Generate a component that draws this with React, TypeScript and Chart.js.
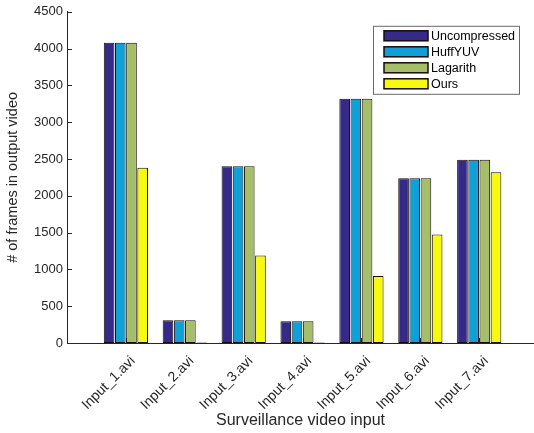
import React, { useEffect, useRef } from "react";
import { Chart, registerables } from "chart.js";

Chart.register(...registerables);

const categories = [
  "Input_1.avi",
  "Input_2.avi",
  "Input_3.avi",
  "Input_4.avi",
  "Input_5.avi",
  "Input_6.avi",
  "Input_7.avi",
];
const seriesNames = ["Uncompressed", "HuffYUV", "Lagarith", "Ours"];
const uncompressed = [4080, 310, 2400, 295, 3320, 2240, 2490];
const huffyuv = [4080, 310, 2400, 295, 3320, 2240, 2490];
const lagarith = [4080, 310, 2400, 295, 3320, 2240, 2490];
const ours = [2380, 8, 1190, 8, 910, 1475, 2320];
const yTicks = [0, 500, 1000, 1500, 2000, 2500, 3000, 3500, 4000, 4500];
const colors = ["#352a87", "#0ea0d6", "#a5be6a", "#f8fa0e"];

const FONT = '"Liberation Sans", Arial, Helvetica, sans-serif';
const AXIS = "#262626";

const inwardTicks = {
  id: "inwardTicks",
  beforeDatasetsDraw(chart: any) {
    const { ctx, chartArea, scales } = chart;
    ctx.save();
    ctx.strokeStyle = AXIS;
    ctx.lineWidth = 1;
    ctx.beginPath();
    scales.y.ticks.forEach((t: any) => {
      const y = Math.round(scales.y.getPixelForValue(t.value)) + 0.5;
      ctx.moveTo(chartArea.left, y);
      ctx.lineTo(chartArea.left + 5, y);
    });
    scales.x.ticks.forEach((t: any) => {
      const x = Math.round(scales.x.getPixelForValue(t.value)) + 0.5;
      ctx.moveTo(x, chartArea.bottom);
      ctx.lineTo(x, chartArea.bottom - 5);
    });
    ctx.stroke();
    ctx.restore();
  },
};

const boxLegend = {
  id: "boxLegend",
  afterDraw(chart: any) {
    const { ctx, chartArea } = chart;
    const right = chartArea.right - 15;
    const top = chartArea.top + 14;
    const w = 146;
    const h = 68;
    const left = right - w;
    ctx.save();
    ctx.fillStyle = "#ffffff";
    ctx.fillRect(left, top, w, h);
    ctx.strokeStyle = "#6a6a6a";
    ctx.lineWidth = 1;
    ctx.strokeRect(left + 0.5, top + 0.5, w, h);
    ctx.font = `12.5px ${FONT}`;
    ctx.textBaseline = "middle";
    ctx.textAlign = "left";
    chart.data.datasets.forEach((ds: any, i: number) => {
      const cy = top + 10 + i * 16;
      ctx.fillStyle = ds.backgroundColor;
      ctx.fillRect(left + 11, cy - 5, 44, 10);
      ctx.strokeStyle = "#1a0a0a";
      ctx.lineWidth = 1.5;
      ctx.strokeRect(left + 11, cy - 5, 44, 10);
      ctx.fillStyle = "#000000";
      ctx.fillText(ds.label, left + 58, cy + 0.5);
    });
    ctx.restore();
  },
};

export default function App() {
  const ref = useRef<HTMLCanvasElement | null>(null);
  useEffect(() => {
    if (!ref.current) return;
    const series = [uncompressed, huffyuv, lagarith, ours];
    const chart = new Chart(ref.current, {
      type: "bar",
      data: {
        datasets: series.map((vals, si) => ({
          label: seriesNames[si],
          data: vals.map((v, i) => ({ x: i + 1, y: v })),
          backgroundColor: colors[si],
          borderColor: "#1a0a0a",
          borderWidth: 1,
          borderSkipped: false,
          categoryPercentage: 0.76,
          barPercentage: 0.95,
        })),
      },
      options: {
        animation: false,
        responsive: false,
        devicePixelRatio: 1,
        layout: { padding: { top: 10, left: 0, right: 0, bottom: 0 } },
        plugins: { legend: { display: false }, tooltip: { enabled: false } },
        scales: {
          x: {
            type: "linear",
            min: 0,
            max: 7.93,
            offset: false,
            grid: { display: false, drawTicks: false },
            border: { display: true, color: AXIS, width: 1 },
            afterBuildTicks: (scale: any) => {
              scale.ticks = categories.map((_, i) => ({ value: i + 1 }));
            },
            afterFit: (scale: any) => {
              scale.height = 90;
            },
            ticks: {
              autoSkip: false,
              maxRotation: 45,
              minRotation: 45,
              padding: 10,
              labelOffset: 7,
              color: AXIS,
              font: { family: FONT, size: 14 },
              callback: (v: any) => categories[Math.round(v) - 1] ?? "",
            },
            title: {
              display: true,
              text: "Surveillance video input",
              color: AXIS,
              font: { family: FONT, size: 16 },
              padding: { top: 0, bottom: 3 },
            },
          },
          y: {
            min: 0,
            max: 4500,
            grid: { display: false, drawTicks: false },
            border: { display: true, color: AXIS, width: 1 },
            afterBuildTicks: (scale: any) => {
              scale.ticks = yTicks.map((v) => ({ value: v }));
            },
            afterFit: (scale: any) => {
              scale.width = 67;
            },
            ticks: {
              padding: 4,
              color: AXIS,
              font: { family: FONT, size: 13 },
              callback: (v: any) => String(v),
            },
            title: {
              display: true,
              text: "# of frames in output video",
              color: AXIS,
              font: { family: FONT, size: 14.5 },
              padding: { top: 4, bottom: 4 },
            },
          },
        },
      },
      plugins: [inwardTicks, boxLegend],
    });
    return () => chart.destroy();
  }, []);
  return (
    <div style={{ position: "absolute", left: 0, top: 0, width: 534, height: 433 }}>
      <canvas ref={ref} width={534} height={433} />
    </div>
  );
}
